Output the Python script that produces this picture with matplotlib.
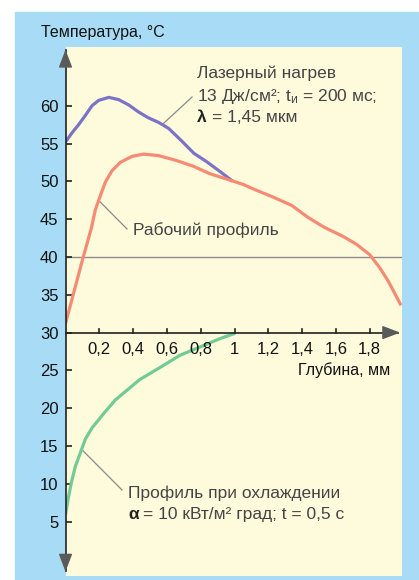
import matplotlib
matplotlib.use('Agg')
import matplotlib.pyplot as plt
from matplotlib import font_manager
from matplotlib.patches import Rectangle

# шрифты
names = {f.name for f in font_manager.fontManager.ttflist}
NARROW = 'Liberation Sans Narrow' if 'Liberation Sans Narrow' in names else 'Liberation Sans'
LIGHT = 'Liberation Sans'
plt.rcParams['mathtext.fontset'] = 'custom'
plt.rcParams['mathtext.rm'] = LIGHT
plt.rcParams['mathtext.it'] = LIGHT

# данные
laser_x = [0.0, 0.038, 0.078, 0.117, 0.157, 0.196, 0.256, 0.315, 0.374, 0.43,
           0.49, 0.55, 0.61, 0.68, 0.76, 0.835, 0.914, 0.99]
laser_t = [55.2, 56.4, 57.5, 58.7, 60.0, 60.7, 61.1, 60.8, 60.1, 59.2,
           58.4, 57.8, 57.0, 55.5, 53.7, 52.6, 51.3, 50.0]

work_x = [0.0, 0.105, 0.153, 0.176, 0.206, 0.236, 0.275, 0.324, 0.393, 0.463,
          0.55, 0.65, 0.756, 0.855, 0.954, 1.05, 1.11, 1.23, 1.34, 1.43,
          1.525, 1.565, 1.644, 1.72, 1.80, 1.86, 1.91, 1.95, 1.985]
work_t = [31.2, 40.0, 43.8, 46.2, 48.1, 49.9, 51.4, 52.5, 53.3, 53.6,
          53.4, 52.8, 52.0, 51.0, 50.3, 49.6, 49.0, 47.9, 46.8, 45.3,
          44.0, 43.55, 42.7, 41.7, 40.3, 38.55, 36.8, 35.1, 33.6]

cool_x = [0.0, 0.015, 0.034, 0.058, 0.088, 0.117, 0.157, 0.226, 0.295, 0.44,
          0.56, 0.677, 0.796, 0.914, 1.003]
cool_t = [5.9, 7.9, 10.1, 12.3, 14.1, 15.9, 17.4, 19.3, 21.1, 23.8,
          25.4, 27.0, 28.1, 29.2, 29.9]

x_ticks = [0.2, 0.4, 0.6, 0.8, 1.0, 1.2, 1.4, 1.6, 1.8]
x_labels = ['0,2', '0,4', '0,6', '0,8', '1', '1,2', '1,4', '1,6', '1,8']
y_ticks = [5, 10, 15, 20, 25, 30, 35, 40, 45, 50, 55, 60]

BLUE = '#a8dcf6'
CREAM = '#fefbdd'
TXT = '#444444'
LEAD = '#8a8a8a'

W, H = 419, 580
fig = plt.figure(figsize=(W / 100, H / 100), dpi=100)
fig.patch.set_facecolor('white')
fig.patches.append(Rectangle((15 / W, 0), 1 - 15 / W, 1 - 12 / H,
                             transform=fig.transFigure, color=BLUE, zorder=-10))

ax = fig.add_axes([65.5 / W, 4 / H, (402 - 65.5) / W, (576 - 47) / H])
ax.set_facecolor(CREAM)
ax.set_xlim(0, 1.991)
ax.set_ylim(-2.18, 67.76)
for s in ax.spines.values():
    s.set_visible(False)

# оси со стрелками
ax.plot([0, 0], [-1.5, 67.3], color='#222222', lw=1.2, clip_on=False, zorder=3)
ax.plot([0, 1.97], [30, 30], color='#222222', lw=1.2, clip_on=False, zorder=3)
arr = dict(arrowstyle='-|>,head_length=1.1,head_width=0.42', color='#5a5a5a',
           shrinkA=0, shrinkB=0, mutation_scale=10)
ax.annotate('', xy=(0, 67.4), xytext=(0, 65.4), arrowprops=arr, annotation_clip=False, zorder=4)
ax.annotate('', xy=(0, -1.6), xytext=(0, 0.4), arrowprops=arr, annotation_clip=False, zorder=4)
ax.annotate('', xy=(1.98, 30), xytext=(1.9, 30), arrowprops=arr, annotation_clip=False, zorder=4)

# деления
ax.set_yticks(y_ticks)
ax.set_yticklabels([str(v) for v in y_ticks], family=[NARROW, 'DejaVu Sans'], fontsize=12)
ax.tick_params(axis='y', direction='in', length=4, width=1.2, color='#222222', pad=5,
               labelcolor='#111111')
ax.set_xticks([])
for xt, lab in zip(x_ticks, x_labels):
    ax.plot([xt, xt], [30, 30.45], color='#222222', lw=1.2, zorder=3)
    ax.text(xt, 27.7, lab, ha='center', va='center', fontsize=12,
            family=[NARROW, 'DejaVu Sans'], color='#111111')

ax.axhline(40, color='#8c8c8c', lw=1.0, zorder=1)

# кривые
ax.plot(laser_x, laser_t, color='#7b74c6', lw=2.3, solid_capstyle='butt',
        solid_joinstyle='round', zorder=2)
ax.plot(work_x, work_t, color='#f68a73', lw=2.3, solid_capstyle='butt',
        solid_joinstyle='round', zorder=2)
ax.plot(cool_x, cool_t, color='#72cb95', lw=2.3, solid_capstyle='butt',
        solid_joinstyle='round', zorder=2)

# подписи
fig.text(41 / W, 1 - 32 / H, 'Температура, °C', ha='left', va='center', fontsize=11.5,
         family=[NARROW, 'DejaVu Sans'], color='#111111')
ax.text(1.92, 25.06, 'Глубина, мм', ha='right', va='center', fontsize=11.5,
        family=[NARROW, 'DejaVu Sans'], color='#111111')

fs = 12.5
fam = [LIGHT, 'DejaVu Sans']
ax.text(0.778, 64.3, 'Лазерный нагрев', ha='left', va='center', fontsize=fs, family=fam, color=TXT)
ax.text(0.778, 61.15, '13 Дж/см²; t$_{и}$ = 200 мс;', ha='left', va='center', fontsize=fs,
        family=fam, color=TXT)
ax.text(0.778, 58.5, 'λ', ha='left', va='center', fontsize=fs, family=fam, color='#222222',
        fontweight='bold')
ax.annotate('= 1,45 мкм', xy=(0.778, 58.5), xytext=(11, 0), textcoords='offset points',
            ha='left', va='center', fontsize=fs, family=fam, color=TXT)
ax.plot([0.577, 0.749], [57.6, 61.15], color=LEAD, lw=0.9, zorder=1)

ax.text(0.40, 43.55, 'Рабочий профиль', ha='left', va='center', fontsize=fs, family=fam, color=TXT)
ax.plot([0.204, 0.364], [47.3, 43.7], color=LEAD, lw=0.9, zorder=1)

ax.text(0.37, 8.8, 'Профиль при охлаждении', ha='left', va='center', fontsize=fs,
        family=fam, color=TXT)
ax.text(0.37, 6.0, 'α', ha='left', va='center', fontsize=fs, family=fam, color='#222222',
        fontweight='bold')
ax.annotate('= 10 кВт/м² град; t = 0,5 с', xy=(0.37, 6.0), xytext=(11, 0),
            textcoords='offset points', ha='left', va='center', fontsize=fs, family=fam, color=TXT)
ax.plot([0.098, 0.334], [14.5, 9.2], color=LEAD, lw=0.9, zorder=1)

fig.savefig('out.png', dpi=100)
